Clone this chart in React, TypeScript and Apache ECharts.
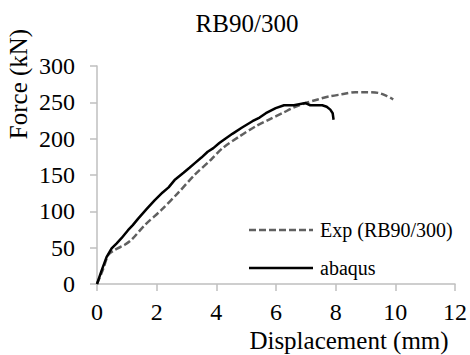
import React, { useEffect, useRef } from "react";
import * as echarts from "echarts";

const titleText = "RB90/300";
const xName = "Displacement (mm)";
const yName = "Force (kN)";
const xTicks = [0, 2, 4, 6, 8, 10, 12];
const yTicks = [0, 50, 100, 150, 200, 250, 300];

const expName = "Exp (RB90/300)";
const expDisp = [0, 0.2, 0.38, 0.6, 0.93, 1.16, 1.6, 2.16, 2.71, 3.27, 3.82, 4.21, 4.77, 5.32, 5.8, 6.21, 6.6, 6.99, 7.4, 7.77, 8.2, 8.66, 9.0, 9.43, 9.7, 9.93];
const expForce = [0, 20, 40, 47, 54, 61, 81, 102, 125, 150, 171, 187, 203, 217, 227, 235, 243, 249, 254, 258, 261, 264, 264, 263, 259, 254];

const abqName = "abaqus";
const abqDisp = [0, 0.15, 0.32, 0.49, 0.66, 0.82, 1.04, 1.2, 1.38, 1.66, 1.93, 2.2, 2.4, 2.6, 2.9, 3.1, 3.27, 3.5, 3.71, 3.9, 4.1, 4.3, 4.55, 4.85, 5.21, 5.45, 5.66, 5.99, 6.27, 6.6, 6.99, 7.15, 7.32, 7.55, 7.7, 7.82, 7.9, 7.93];
const abqForce = [0, 18, 37, 49, 56, 63, 74, 81, 90, 103, 115, 126, 133, 143, 153, 160, 166, 174, 182, 187, 194, 200, 207, 215, 224, 229, 235, 242, 246, 246, 249, 246, 246, 246, 244, 240, 235, 226];

const FONT = "Liberation Serif, Times New Roman, serif";

export default function App() {
  const ref = useRef<HTMLDivElement>(null);
  useEffect(() => {
    if (!ref.current) return;
    const chart = echarts.init(ref.current, undefined, { renderer: "svg" });
    const expData = expDisp.map((d, i) => [d, expForce[i]]);
    const abqData = abqDisp.map((d, i) => [d, abqForce[i]]);
    const txt = (size: number) => ({ fontFamily: FONT, fontSize: size, fill: "#000" });
    chart.setOption({
      animation: false,
      backgroundColor: "#ffffff",
      grid: { left: 97, right: 13, top: 66, bottom: 71, containLabel: false },
      graphic: [
        {
          type: "text",
          x: 247,
          y: 23,
          style: { text: titleText, ...txt(25), textAlign: "center", textVerticalAlign: "middle" },
        },
        {
          type: "text",
          x: 18,
          y: 84,
          rotation: Math.PI / 2,
          style: { text: yName, ...txt(25), textAlign: "center", textVerticalAlign: "middle" },
        },
        {
          type: "text",
          x: 349,
          y: 340,
          style: { text: xName, ...txt(25), textAlign: "center", textVerticalAlign: "middle" },
        },
        {
          type: "line",
          shape: { x1: 249, y1: 230, x2: 313, y2: 230 },
          style: { stroke: "#606060", lineWidth: 2.5, lineDash: [7, 3] },
        },
        {
          type: "text",
          x: 320,
          y: 230,
          style: { text: expName, ...txt(20), textAlign: "left", textVerticalAlign: "middle" },
        },
        {
          type: "line",
          shape: { x1: 249, y1: 268, x2: 313, y2: 268 },
          style: { stroke: "#000000", lineWidth: 2.5 },
        },
        {
          type: "text",
          x: 320,
          y: 268,
          style: { text: abqName, ...txt(20), textAlign: "left", textVerticalAlign: "middle" },
        },
      ],
      xAxis: {
        type: "value",
        min: 0,
        max: 12,
        interval: 2,
        axisLine: { show: true, lineStyle: { color: "#bfbfbf", width: 1.5 } },
        axisTick: { show: true, inside: false, length: 7, lineStyle: { color: "#bfbfbf", width: 1.5 } },
        axisLabel: {
          margin: 17,
          fontFamily: FONT,
          fontSize: 24,
          lineHeight: 22,
          color: "#000",
          formatter: (v: number) => (xTicks.includes(v) ? String(v) : ""),
        },
        splitLine: { show: false },
      },
      yAxis: {
        type: "value",
        min: 0,
        max: 300,
        interval: 50,
        axisLine: { show: true, lineStyle: { color: "#bfbfbf", width: 1.5 } },
        axisTick: { show: true, inside: false, length: 7, lineStyle: { color: "#bfbfbf", width: 1.5 } },
        axisLabel: {
          margin: 22,
          fontFamily: FONT,
          fontSize: 24,
          color: "#000",
          formatter: (v: number) => (yTicks.includes(v) ? String(v) : ""),
        },
        splitLine: { show: false },
      },
      series: [
        {
          name: expName,
          type: "line",
          data: expData,
          symbol: "none",
          smooth: 0.3,
          lineStyle: { color: "#606060", width: 2.5, type: [7, 3] },
          itemStyle: { color: "#606060" },
          z: 2,
        },
        {
          name: abqName,
          type: "line",
          data: abqData,
          symbol: "none",
          lineStyle: { color: "#000000", width: 2.5 },
          itemStyle: { color: "#000000" },
          z: 3,
        },
      ],
    });
    return () => chart.dispose();
  }, []);
  return <div ref={ref} style={{ width: 470, height: 355, position: "absolute", left: 0, top: 0 }} />;
}
